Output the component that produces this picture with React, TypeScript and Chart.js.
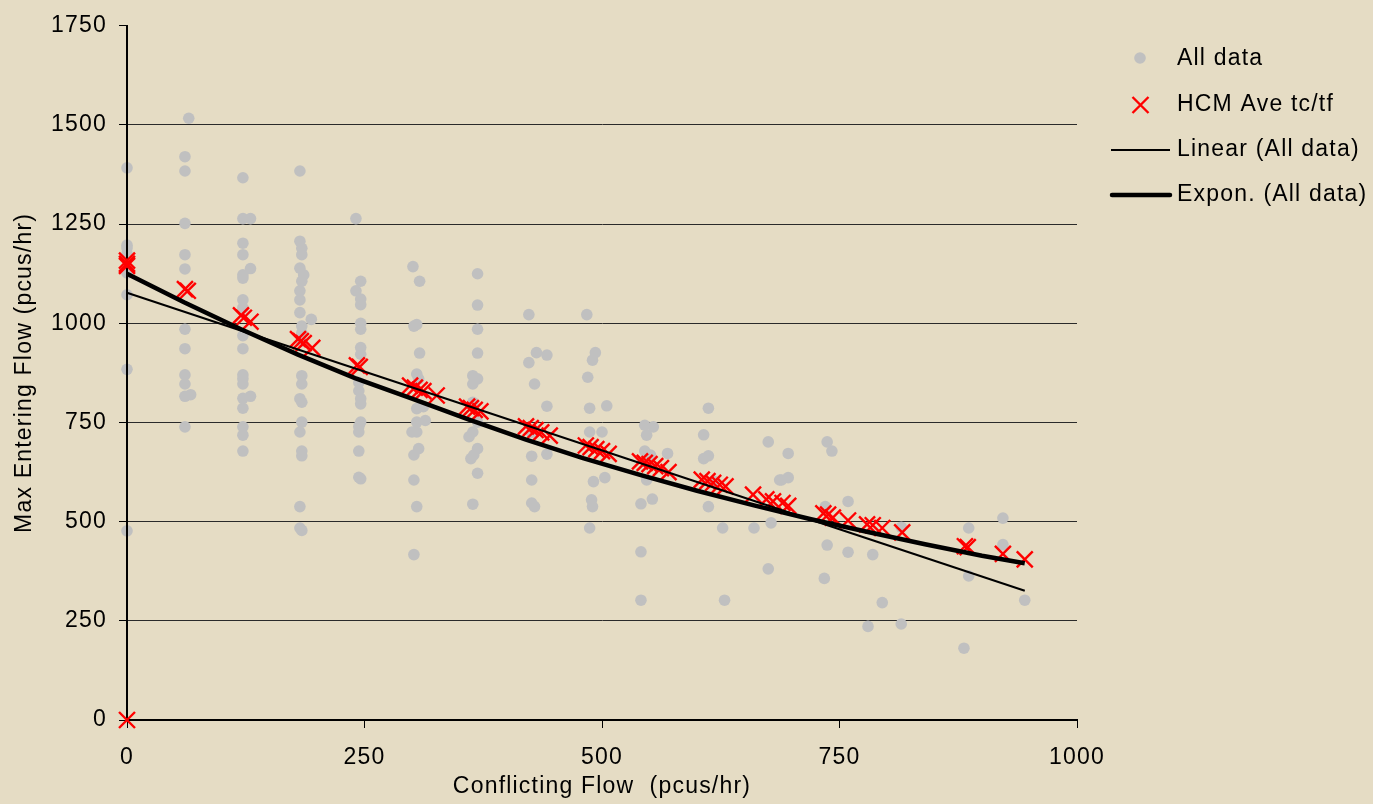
import React, { useEffect, useRef } from "react";
import { Chart, registerables } from "chart.js";

Chart.register(...registerables);

// ---------- data ----------
const xTicks = [0, 250, 500, 750, 1000];
const yTicks = [0, 250, 500, 750, 1000, 1250, 1500, 1750];

const allDataX = [
  0, 0, 0, 0, 0, 0, 0, 0,
  65, 61, 61, 61, 61, 61, 61, 61, 61, 61, 61, 67, 61,
  122, 122, 130, 122, 122, 130, 122, 122, 122, 122, 122, 122, 122, 122, 122, 130, 122, 122, 122, 122, 122,
  182, 182, 184, 184, 182, 186, 184, 182, 182, 182, 194, 184, 184, 184, 184, 184, 182, 184, 184, 182, 184, 184, 182, 182, 184,
  241, 246, 241, 246, 246, 246, 246, 246, 246, 244, 244, 246, 246, 246, 244, 244, 244, 244, 246,
  301, 308, 305, 302, 308, 305, 307, 305, 312, 314, 305, 300, 305, 307, 302, 302, 305, 302,
  369, 369, 369, 369, 364, 369, 364, 364, 369, 364, 360, 369, 365, 362, 369, 364,
  423, 431, 442, 423, 429, 442, 426, 426, 442, 426, 426, 429,
  484, 493, 490, 485, 487, 505, 487, 500, 491, 503, 489, 490, 487,
  545, 554, 547, 545, 551, 569, 547, 553, 541, 541, 541,
  612, 607, 607, 612, 618, 612, 627, 629,
  675, 696, 687, 696, 689, 660, 678, 675,
  737, 742, 735, 759, 737, 759, 734, 785, 795, 780, 815, 815,
  886, 886, 881, 922, 922, 945,
];
const allDataY = [
  1392, 1197, 1190, 1175, 1127, 1072, 884, 477,
  1517, 1420, 1384, 1252, 1173, 1137, 985, 936, 870, 847, 816, 820, 739,
  1367, 1264, 1264, 1202, 1173, 1138, 1122, 1114, 1059, 1039, 969, 936, 870, 860, 847, 816, 811, 786, 739, 718, 678,
  1384, 1207, 1189, 1173, 1139, 1122, 1106, 1082, 1059, 1027, 1010, 993, 976, 955, 868, 847, 810, 801, 751, 726, 678, 666, 538, 484, 478,
  1264, 1106, 1082, 1061, 1047, 1000, 985, 939, 922, 851, 830, 810, 797, 751, 740, 726, 678, 612, 608,
  1143, 1106, 997, 993, 925, 872, 860, 785, 790, 755, 751, 726, 726, 684, 668, 605, 538, 417,
  1125, 1046, 985, 925, 868, 860, 847, 801, 751, 726, 714, 684, 668, 659, 622, 544,
  1022, 926, 920, 901, 847, 791, 725, 665, 670, 605, 547, 538,
  1022, 926, 907, 864, 786, 792, 726, 726, 601, 611, 555, 538, 484,
  743, 739, 718, 678, 668, 672, 605, 557, 545, 424, 302,
  786, 719, 659, 666, 602, 538, 484, 302,
  701, 672, 605, 611, 605, 484, 497, 381,
  701, 678, 538, 551, 441, 423, 357, 417, 296, 236, 242, 486,
  484, 363, 181, 509, 442, 302,
];

const hcmX = [
  0, 0, 0, 0,
  61, 64,
  120, 123, 130,
  180, 183, 186, 195,
  242, 245,
  298, 303, 308, 312, 326,
  358, 362, 366, 372,
  420, 425, 430, 436, 445,
  483, 488, 494, 500, 507,
  540, 545, 550, 556, 562, 570,
  605, 611, 617, 624, 630,
  659, 673, 680, 690, 696,
  733, 738, 743, 759, 779, 785, 795, 816,
  882, 885, 922, 945,
];
const hcmY = [
  1158, 1145, 1150, 0,
  1086, 1082,
  1020, 1014, 1004,
  960, 955, 950, 938,
  894, 890,
  843, 838, 832, 829, 818,
  790, 786, 782, 778,
  740, 736, 731, 725, 717,
  692, 688, 683, 678, 671,
  652, 648, 645, 640, 635, 625,
  606, 602, 598, 593, 589,
  568, 556, 551, 547, 540,
  521, 518, 510, 503, 493, 491, 484, 473,
  438, 436, 419, 405,
];

const linearX = [0, 945];
const linearY = [1077, 326];

const exponX = [0, 60, 120, 180, 240, 300, 360, 420, 480, 540, 600, 660, 720, 780, 840, 900, 945];
const exponY = [1125, 1053, 985, 921, 862, 810, 757, 707, 660, 618, 578, 541, 506, 474, 443, 414, 395];

const seriesNames = ["All data", "HCM Ave tc/tf", "Linear (All data)", "Expon. (All data)"];
const xTitle = "Conflicting Flow  (pcus/hr)";
const yTitle = "Max Entering Flow (pcus/hr)";

// ---------- styles ----------
const BG = "#E5DCC4";
const FONT = "'Liberation Sans', Arial, sans-serif";
const FONT_SIZE = 23;
const SPACING = "1.2px";
const GREY = "#C0C0C0";
const RED = "#FF0000";

const pairs = (xs: number[], ys: number[]) => xs.map((x, i) => ({ x, y: ys[i] }));

const chartPlugin = {
  id: "customLook",
  beforeLayout(chart: any) {
    chart.ctx.letterSpacing = SPACING;
  },
  beforeDraw(chart: any) {
    const ctx = chart.ctx;
    ctx.save();
    ctx.fillStyle = BG;
    ctx.fillRect(0, 0, chart.width, chart.height);
    ctx.restore();
    ctx.letterSpacing = SPACING;
  },
  afterDatasetDraw(chart: any, args: any) {
    // the value axis line sits above the grey "All data" dots
    if (args.index !== 3) return;
    const ctx = chart.ctx;
    const { left, top, bottom } = chart.chartArea;
    ctx.save();
    ctx.strokeStyle = "#000";
    ctx.lineWidth = 2;
    ctx.beginPath();
    ctx.moveTo(left, top);
    ctx.lineTo(left, bottom);
    ctx.stroke();
    ctx.restore();
  },
  afterDraw(chart: any) {
    const ctx = chart.ctx;
    ctx.save();
    // dot
    ctx.fillStyle = GREY;
    ctx.beginPath();
    ctx.arc(1140, 58, 5.8, 0, Math.PI * 2);
    ctx.fill();
    // red cross
    ctx.strokeStyle = RED;
    ctx.lineWidth = 2.4;
    ctx.beginPath();
    ctx.moveTo(1132.5, 97);
    ctx.lineTo(1148.5, 113);
    ctx.moveTo(1148.5, 97);
    ctx.lineTo(1132.5, 113);
    ctx.stroke();
    // linear line
    ctx.strokeStyle = "#000";
    ctx.lineWidth = 2;
    ctx.beginPath();
    ctx.moveTo(1111, 150);
    ctx.lineTo(1170, 150);
    ctx.stroke();
    // expon line
    ctx.lineWidth = 4.5;
    ctx.lineCap = "round";
    ctx.beginPath();
    ctx.moveTo(1112, 195);
    ctx.lineTo(1170, 195);
    ctx.stroke();
    // texts
    ctx.fillStyle = "#000";
    ctx.font = `${FONT_SIZE}px ${FONT}`;
    ctx.letterSpacing = SPACING;
    ctx.textAlign = "left";
    ctx.textBaseline = "middle";
    const ys = [59, 105, 150, 195];
    seriesNames.forEach((t, i) => ctx.fillText(t, 1177, ys[i]));
    ctx.restore();
  },
};

export default function App() {
  const ref = useRef<HTMLCanvasElement | null>(null);

  useEffect(() => {
    document.body.style.margin = "0";
    document.body.style.background = BG;
    const canvas = ref.current;
    if (!canvas) return;
    const tickFont = { family: FONT, size: FONT_SIZE, lineHeight: 1.2 };
    const chart = new Chart(canvas, {
      type: "scatter",
      data: {
        datasets: [
          {
            label: seriesNames[3],
            data: pairs(exponX, exponY),
            showLine: true,
            borderColor: "#000",
            borderWidth: 4.5,
            pointRadius: 0,
            fill: false,
            clip: false,
            order: 0,
          } as any,
          {
            label: seriesNames[2],
            data: pairs(linearX, linearY),
            showLine: true,
            borderColor: "#000",
            borderWidth: 2,
            pointRadius: 0,
            fill: false,
            clip: false,
            order: 1,
          },
          {
            label: seriesNames[1],
            data: pairs(hcmX, hcmY),
            pointStyle: "crossRot",
            pointRadius: 11.3,
            pointBorderColor: RED,
            pointBorderWidth: 2.4,
            pointBackgroundColor: RED,
            showLine: false,
            clip: false,
            order: 2,
          },
          {
            label: seriesNames[0],
            data: pairs(allDataX, allDataY),
            pointStyle: "circle",
            pointRadius: 5.8,
            pointBackgroundColor: GREY,
            pointBorderWidth: 0,
            pointBorderColor: GREY,
            showLine: false,
            clip: false,
            order: 3,
          },
        ],
      },
      options: {
        animation: false,
        responsive: false,
        devicePixelRatio: 1,
        layout: { padding: { left: 0, top: 21, right: 296, bottom: 0 } },
        plugins: {
          legend: { display: false },
          tooltip: { enabled: false },
        },
        elements: { line: { tension: 0 } },
        scales: {
          x: {
            type: "linear",
            min: 0,
            max: 1000,
            afterBuildTicks: (s: any) => {
              s.ticks = xTicks.map((v) => ({ value: v }));
            },
            afterFit: (s: any) => {
              s.height = 84;
            },
            grid: {
              display: true,
              drawOnChartArea: false,
              drawTicks: true,
              tickLength: 8,
              color: "#000",
              lineWidth: 1,
            },
            border: { display: true, color: "#000", width: 2 },
            ticks: {
              color: "#000",
              font: tickFont,
              padding: 16,
              maxRotation: 0,
              autoSkip: false,
              callback: (v: any) => String(v),
            },
            title: {
              display: true,
              text: xTitle,
              color: "#000",
              font: tickFont,
              padding: { top: 0, bottom: 4 },
            },
          },
          y: {
            type: "linear",
            min: 0,
            max: 1750,
            afterBuildTicks: (s: any) => {
              s.ticks = yTicks.map((v) => ({ value: v }));
            },
            afterFit: (s: any) => {
              s.width = 127;
            },
            grid: {
              display: true,
              drawOnChartArea: true,
              drawTicks: true,
              tickLength: 8,
              color: (c: any) => (c.tick && c.tick.value === 1750 ? "rgba(0,0,0,0)" : "#2a2a2a"),
              tickColor: "#000",
              lineWidth: 1,
            },
            border: { display: true, color: "#000", width: 2 },
            ticks: {
              color: "#000",
              font: tickFont,
              padding: 12,
              autoSkip: false,
              callback: (v: any) => String(v),
            },
            title: {
              display: true,
              text: yTitle,
              color: "#000",
              font: tickFont,
              padding: { top: 11, bottom: 0 },
            },
          },
        },
      },
      plugins: [chartPlugin],
    });
    return () => chart.destroy();
  }, []);

  return (
    <div style={{ width: 1373, height: 804, background: BG }}>
      <canvas ref={ref} width={1373} height={804} style={{ display: "block", width: 1373, height: 804 }} />
    </div>
  );
}
